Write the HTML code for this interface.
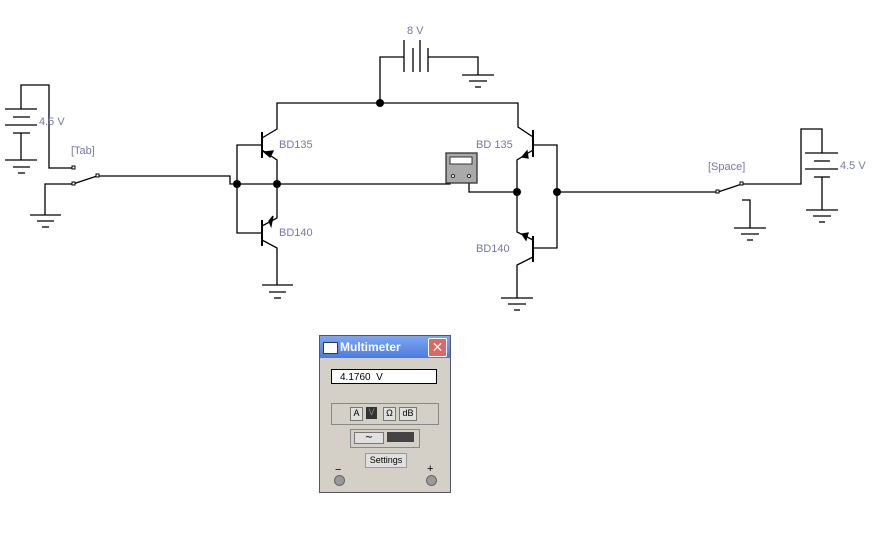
<!DOCTYPE html><html><head><style>
body{margin:0;background:#fff;width:882px;height:553px;overflow:hidden;position:relative;font-family:"Liberation Sans",sans-serif}
.l{position:absolute;color:#7777aa;font-size:11px}
</style></head><body>
<svg width="882" height="553" style="position:absolute;left:0;top:0" stroke="#000" stroke-width="1.3" fill="none">
<!-- left battery -->
<polyline points="21,109 21,85 49,85 49,168 73,168"/>
<line x1="5" y1="109" x2="37" y2="109"/><line x1="13" y1="117" x2="30" y2="117"/>
<line x1="5" y1="125" x2="37" y2="125"/><line x1="13" y1="133" x2="30" y2="133"/>
<line x1="21" y1="133" x2="21" y2="160"/>
<line x1="5" y1="160" x2="37" y2="160"/><line x1="13" y1="167" x2="30" y2="167"/><line x1="18" y1="173" x2="25" y2="173"/>
<polyline points="73,184 45,184 45,215"/>
<line x1="30" y1="215" x2="61" y2="215"/><line x1="37" y1="221" x2="54" y2="221"/><line x1="42" y1="227" x2="49" y2="227"/>
<line x1="73" y1="184" x2="97" y2="176"/>
<polyline points="97,176 230,176 230,184 277,184"/>
<!-- Q1/Q2 -->
<polyline points="262,145 237,145 237,233 262,233"/>
<line x1="262" y1="132" x2="262" y2="158" stroke-width="2"/>
<polyline points="262,138 277,129 277,103 518,103 518,127 533,137"/>
<polyline points="262,150 277,160 277,184"/>
<polygon points="270,157 264,152 273,151" fill="#000"/>
<line x1="262" y1="220" x2="262" y2="246" stroke-width="2"/>
<polyline points="277,184 277,218 262,226"/>
<polygon points="269,221 273,216 271,226" fill="#000"/>
<polyline points="262,240 277,248 277,285"/>
<line x1="262" y1="285" x2="293" y2="285"/><line x1="269" y1="292" x2="286" y2="292"/><line x1="274" y1="298" x2="281" y2="298"/>
<!-- 8V -->
<polyline points="380,103 380,57 404,57"/>
<line x1="404" y1="40" x2="404" y2="72"/><line x1="413" y1="48" x2="413" y2="72"/>
<line x1="420" y1="40" x2="420" y2="72"/><line x1="428" y1="48" x2="428" y2="72"/>
<polyline points="428,57 478,57 478,75"/>
<line x1="462" y1="75" x2="494" y2="75"/><line x1="469" y1="81" x2="487" y2="81"/><line x1="475" y1="87" x2="481" y2="87"/>
<!-- meter -->
<polyline points="277,184 445,184 450,184 450,180"/>
<polyline points="469,180 469,192 517,192"/>
<rect x="446" y="153" width="31" height="30" fill="#aaa" stroke="#333"/>
<rect x="450" y="157" width="22" height="7" fill="#fff" stroke="#333" stroke-width="1"/>
<circle cx="453" cy="176" r="1.5" fill="#fff" stroke-width="0.8"/><circle cx="469" cy="176" r="1.5" fill="#fff" stroke-width="0.8"/>
<!-- Q3/Q4 -->
<line x1="533" y1="130" x2="533" y2="157" stroke-width="2"/>
<polyline points="533,150 517,160 517,192 517,232 533,240"/>
<polygon points="522,157 527,151 528,158" fill="#000"/>
<polygon points="522,234 526,240 528,233" fill="#000"/>
<polyline points="533,145 557,145 557,248 533,248"/>
<line x1="533" y1="236" x2="533" y2="262" stroke-width="2"/>
<polyline points="533,257 517,265 517,298"/>
<line x1="501" y1="298" x2="533" y2="298"/><line x1="508" y1="304" x2="526" y2="304"/><line x1="514" y1="310" x2="520" y2="310"/>
<!-- output -->
<line x1="557" y1="192" x2="718" y2="192"/>
<line x1="718" y1="192" x2="742" y2="184"/>
<polyline points="742,184 801,184 801,129 822,129 822,153"/>
<line x1="805" y1="153" x2="838" y2="153"/><line x1="814" y1="161" x2="830" y2="161"/>
<line x1="805" y1="169" x2="838" y2="169"/><line x1="814" y1="177" x2="830" y2="177"/>
<line x1="822" y1="177" x2="822" y2="210"/>
<line x1="806" y1="210" x2="838" y2="210"/><line x1="813" y1="216" x2="831" y2="216"/><line x1="819" y1="222" x2="825" y2="222"/>
<polyline points="742,200 750,200 750,228"/>
<line x1="734" y1="228" x2="766" y2="228"/><line x1="741" y1="234" x2="759" y2="234"/><line x1="747" y1="240" x2="753" y2="240"/>
<g fill="#fff" stroke-width="1"><rect x="72" y="166" width="3" height="3"/><rect x="72" y="182" width="3" height="3"/><rect x="96" y="174" width="3" height="3"/>
<rect x="716" y="190" width="3" height="3"/><rect x="740" y="182" width="3" height="3"/></g>
<g fill="#000" stroke="none"><circle cx="237" cy="184" r="4"/><circle cx="277" cy="184" r="4"/><circle cx="380" cy="103" r="4"/><circle cx="517" cy="192" r="4"/><circle cx="557" cy="192" r="4"/></g>
</svg>
<div class="l" style="left:39px;top:116px">4.5 V</div>
<div class="l" style="left:71px;top:145px">[Tab]</div>
<div class="l" style="left:279px;top:139px">BD135</div>
<div class="l" style="left:279px;top:227px">BD140</div>
<div class="l" style="left:407px;top:25px">8 V</div>
<div class="l" style="left:476px;top:139px">BD 135</div>
<div class="l" style="left:476px;top:243px">BD140</div>
<div class="l" style="left:708px;top:161px">[Space]</div>
<div class="l" style="left:840px;top:160px">4.5 V</div>
<!-- multimeter window -->
<div style="position:absolute;left:319px;top:335px;width:130px;height:156px;border:1px solid #556;background:#d4d0c8">
<div style="height:22px;background:linear-gradient(#7ea6f0,#4a7be0);color:#fff;font-weight:bold;font-size:12px;line-height:22px;padding-left:20px;position:relative">Multimeter
<div style="position:absolute;left:3px;top:6px;width:13px;height:10px;background:#fff;border:1px solid #335"></div>
<div style="position:absolute;right:3px;top:2px;width:17px;height:17px;background:#d66;border:1px solid #fff;border-radius:2px;text-align:center;line-height:17px;font-size:14px;font-weight:normal">✕</div></div>
<div style="position:absolute;left:11px;top:33px;width:104px;height:15px;background:#fff;border:1px solid #000;font-size:10px;line-height:15px;padding-left:8px;box-sizing:border-box;width:106px">4.1760 &nbsp;V</div>
<div style="position:absolute;left:11px;top:67px;width:106px;height:20px;border:1px solid #888"></div>
<div style="position:absolute;left:30px;top:71px;width:11px;height:12px;background:#e0e0e0;border:1px solid #777;font-size:9px;text-align:center">A</div>
<div style="position:absolute;left:46px;top:71px;width:11px;height:12px;background:#333;color:#888;font-size:9px;text-align:center">V</div>
<div style="position:absolute;left:63px;top:71px;width:11px;height:12px;background:#e0e0e0;border:1px solid #777;font-size:9px;text-align:center">Ω</div>
<div style="position:absolute;left:79px;top:71px;width:16px;height:12px;background:#e0e0e0;border:1px solid #777;font-size:9px;text-align:center">dB</div>
<div style="position:absolute;left:30px;top:93px;width:68px;height:17px;border:1px solid #888"></div>
<div style="position:absolute;left:34px;top:96px;width:28px;height:10px;border:1px solid #777;background:#e0e0e0;font-size:10px;line-height:9px;text-align:center">∼</div>
<div style="position:absolute;left:67px;top:96px;width:27px;height:10px;background:#444"></div>
<div style="position:absolute;left:45px;top:117px;width:40px;height:13px;background:#e0e0e0;border:1px solid #999;font-size:9px;line-height:13px;text-align:center">Settings</div>
<div style="position:absolute;left:15px;top:128px;font-size:11px">−</div>
<div style="position:absolute;left:107px;top:127px;font-size:11px">+</div>
<div style="position:absolute;left:14px;top:139px;width:9px;height:9px;border-radius:50%;background:#999;border:1px solid #666"></div>
<div style="position:absolute;left:106px;top:139px;width:9px;height:9px;border-radius:50%;background:#999;border:1px solid #666"></div>
</div>
</body></html>
